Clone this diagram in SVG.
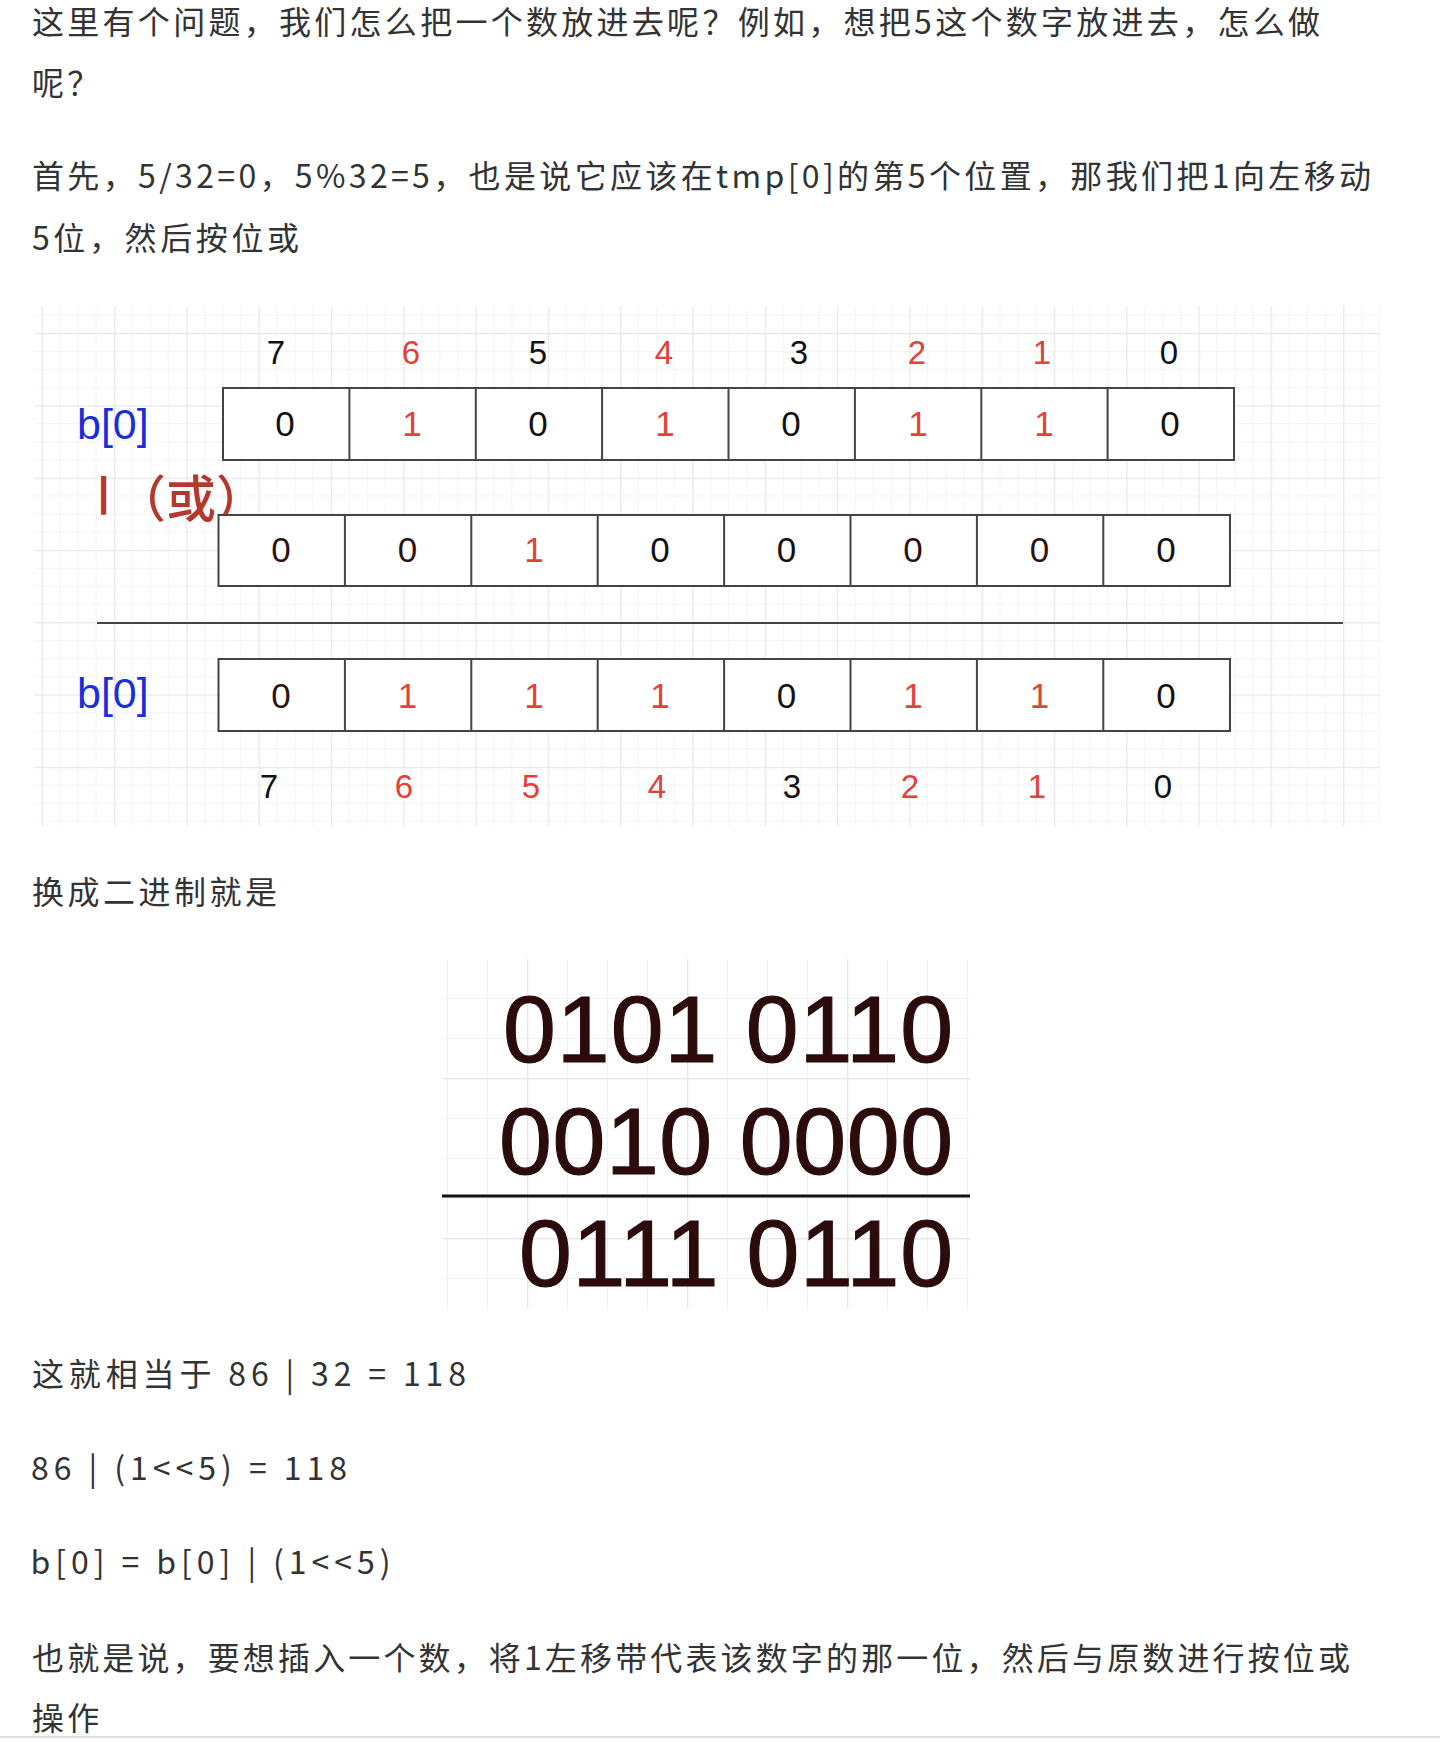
<svg xmlns="http://www.w3.org/2000/svg" width="1440" height="1742" viewBox="0 0 1440 1742">
<style>
.p{font-family:"Noto Sans CJK SC","Noto Sans",sans-serif;font-size:32px;fill:#333;}
.d{font-family:"Liberation Sans",Arial,sans-serif;text-anchor:middle;}
.dig{font-size:35px;}
.idx{font-size:33px;}
.k{fill:#111;}
.r{fill:#e0433a;}
.br{fill:#2e1010;}
.cell{fill:#fff;stroke:#444;stroke-width:2;}
.dv{stroke:#444;stroke-width:2;fill:none;}
.blue{font-family:"Liberation Sans",Arial,sans-serif;font-size:43px;fill:#1b2fd8;}
.big{font-family:"Liberation Sans",Arial,sans-serif;font-size:95px;fill:#2b0b0b;stroke:#2b0b0b;stroke-width:1.2;}
</style>
<defs>
<pattern id="grid1" patternUnits="userSpaceOnUse" x="41.7" y="333" width="72.3" height="72.3">
<rect x="18" y="0" width="1" height="72.3" fill="#f3f3f3"/>
<rect x="36" y="0" width="1" height="72.3" fill="#f3f3f3"/>
<rect x="54" y="0" width="1" height="72.3" fill="#f3f3f3"/>
<rect x="0" y="18" width="72.3" height="1" fill="#f3f3f3"/>
<rect x="0" y="36" width="72.3" height="1" fill="#f3f3f3"/>
<rect x="0" y="54" width="72.3" height="1" fill="#f3f3f3"/>
<rect x="0" y="0" width="1.3" height="72.3" fill="#e9e9e9"/>
<rect x="0" y="0" width="72.3" height="1.3" fill="#e9e9e9"/>
</pattern>
<pattern id="grid2" patternUnits="userSpaceOnUse" x="527" y="1078" width="160" height="160">
<rect x="40" y="0" width="1" height="160" fill="#f1f1f1"/>
<rect x="80" y="0" width="1" height="160" fill="#f1f1f1"/>
<rect x="120" y="0" width="1" height="160" fill="#f1f1f1"/>
<rect x="0" y="40" width="160" height="1" fill="#f1f1f1"/>
<rect x="0" y="80" width="160" height="1" fill="#f1f1f1"/>
<rect x="0" y="120" width="160" height="1" fill="#f1f1f1"/>
<rect x="0" y="0" width="1.4" height="160" fill="#e6e6e6"/>
<rect x="0" y="0" width="160" height="1.4" fill="#e6e6e6"/>
</pattern>
</defs>
<rect x="0" y="0" width="1440" height="1742" fill="#fff"/>

<g id="paragraphs">
<text class="p" x="32" y="34" textLength="1288" lengthAdjust="spacing">这里有个问题，我们怎么把一个数放进去呢？例如，想把5这个数字放进去，怎么做</text>
<text class="p" x="32" y="95" letter-spacing="3.2">呢？</text>
<text class="p" x="32" y="188" textLength="1339" lengthAdjust="spacing">首先，5/32=0，5%32=5，也是说它应该在tmp[0]的第5个位置，那我们把1向左移动</text>
<text class="p" x="32" y="250" textLength="267" lengthAdjust="spacing">5位，然后按位或</text>
<text class="p" x="32" y="904" textLength="245" lengthAdjust="spacing">换成二进制就是</text>
<text class="p" x="32" y="1386" textLength="434" lengthAdjust="spacing">这就相当于 86 | 32 = 118</text>
<text class="p" x="31" y="1480" textLength="316" lengthAdjust="spacing">86 | (1&lt;&lt;5) = 118</text>
<text class="p" x="30.5" y="1574" textLength="360" lengthAdjust="spacing">b[0] = b[0] | (1&lt;&lt;5)</text>
<text class="p" x="32" y="1670" textLength="1318" lengthAdjust="spacing">也就是说，要想插入一个数，将1左移带代表该数字的那一位，然后与原数进行按位或</text>
<text class="p" x="32" y="1730" letter-spacing="3.2">操作</text>
</g>
<rect id="bottom-rule" x="0" y="1736" width="1440" height="2" fill="#dedede"/>

<g id="diagram-bits">
<rect x="34" y="306" width="1346" height="520" fill="url(#grid1)"/>

<g id="top-index">
<text class="d idx k" x="276" y="364">7</text>
<text class="d idx r" x="411" y="364">6</text>
<text class="d idx k" x="538" y="364">5</text>
<text class="d idx r" x="664" y="364">4</text>
<text class="d idx k" x="799" y="364">3</text>
<text class="d idx r" x="917" y="364">2</text>
<text class="d idx r" x="1042" y="364">1</text>
<text class="d idx k" x="1169" y="364">0</text>
</g>

<g id="label-b0-top"><text class="blue" x="77" y="439">b[0]</text></g>

<g id="row1">
<rect class="cell" x="223" y="388" width="1011" height="72"/>
<path class="dv" d="M349.4 388V460M475.8 388V460M602.1 388V460M728.5 388V460M854.9 388V460M981.3 388V460M1107.6 388V460"/>
<text class="d dig k" x="285" y="436">0</text>
<text class="d dig r" x="412" y="436">1</text>
<text class="d dig k" x="538" y="436">0</text>
<text class="d dig r" x="665" y="436">1</text>
<text class="d dig k" x="791" y="436">0</text>
<text class="d dig r" x="918" y="436">1</text>
<text class="d dig r" x="1044" y="436">1</text>
<text class="d dig k" x="1170" y="436">0</text>
</g>

<g id="label-or"><text fill="#b3392c"><tspan x="98" y="506" font-family="Liberation Sans, Arial, sans-serif" font-size="40" font-weight="bold">|</tspan><tspan x="116" y="517" font-family="Noto Sans CJK SC, sans-serif" font-size="50" font-weight="500">（或）</tspan></text></g>

<g id="row2">
<rect class="cell" x="218.5" y="515" width="1011.5" height="71"/>
<path class="dv" d="M344.9 515V586M471.3 515V586M597.7 515V586M724.1 515V586M850.5 515V586M976.9 515V586M1103.3 515V586"/>
<text class="d dig br" x="281" y="562">0</text>
<text class="d dig br" x="407.5" y="562">0</text>
<text class="d dig r" x="534" y="562">1</text>
<text class="d dig k" x="660" y="562">0</text>
<text class="d dig k" x="786.5" y="562">0</text>
<text class="d dig br" x="913" y="562">0</text>
<text class="d dig br" x="1039.5" y="562">0</text>
<text class="d dig k" x="1166" y="562">0</text>
</g>

<g id="connectors">
<line x1="97" y1="623" x2="1343" y2="623" stroke="#444" stroke-width="2"/>
</g>

<g id="label-b0-bottom"><text class="blue" x="77" y="708">b[0]</text></g>

<g id="row3">
<rect class="cell" x="218.5" y="659" width="1011.5" height="72"/>
<path class="dv" d="M344.9 659V731M471.3 659V731M597.7 659V731M724.1 659V731M850.5 659V731M976.9 659V731M1103.3 659V731"/>
<text class="d dig br" x="281" y="708">0</text>
<text class="d dig r" x="407.5" y="708">1</text>
<text class="d dig r" x="534" y="708">1</text>
<text class="d dig r" x="660" y="708">1</text>
<text class="d dig k" x="786.5" y="708">0</text>
<text class="d dig r" x="913" y="708">1</text>
<text class="d dig r" x="1039.5" y="708">1</text>
<text class="d dig k" x="1166" y="708">0</text>
</g>

<g id="bottom-index">
<text class="d idx k" x="269" y="798">7</text>
<text class="d idx r" x="404" y="798">6</text>
<text class="d idx r" x="531" y="798">5</text>
<text class="d idx r" x="657" y="798">4</text>
<text class="d idx k" x="792" y="798">3</text>
<text class="d idx r" x="910" y="798">2</text>
<text class="d idx r" x="1037" y="798">1</text>
<text class="d idx k" x="1163" y="798">0</text>
</g>
</g>

<g id="diagram-binary">
<rect x="443" y="959" width="527" height="349" fill="url(#grid2)"/>
<text class="big" x="503" y="1062" textLength="450" lengthAdjust="spacing">0101 0110</text>
<text class="big" x="499" y="1174" textLength="454" lengthAdjust="spacing">0010 0000</text>
<line x1="442" y1="1196" x2="970" y2="1196" stroke="#111" stroke-width="3"/>
<text class="big" x="519" y="1286" textLength="434" lengthAdjust="spacing">0111 0110</text>
</g>
</svg>
